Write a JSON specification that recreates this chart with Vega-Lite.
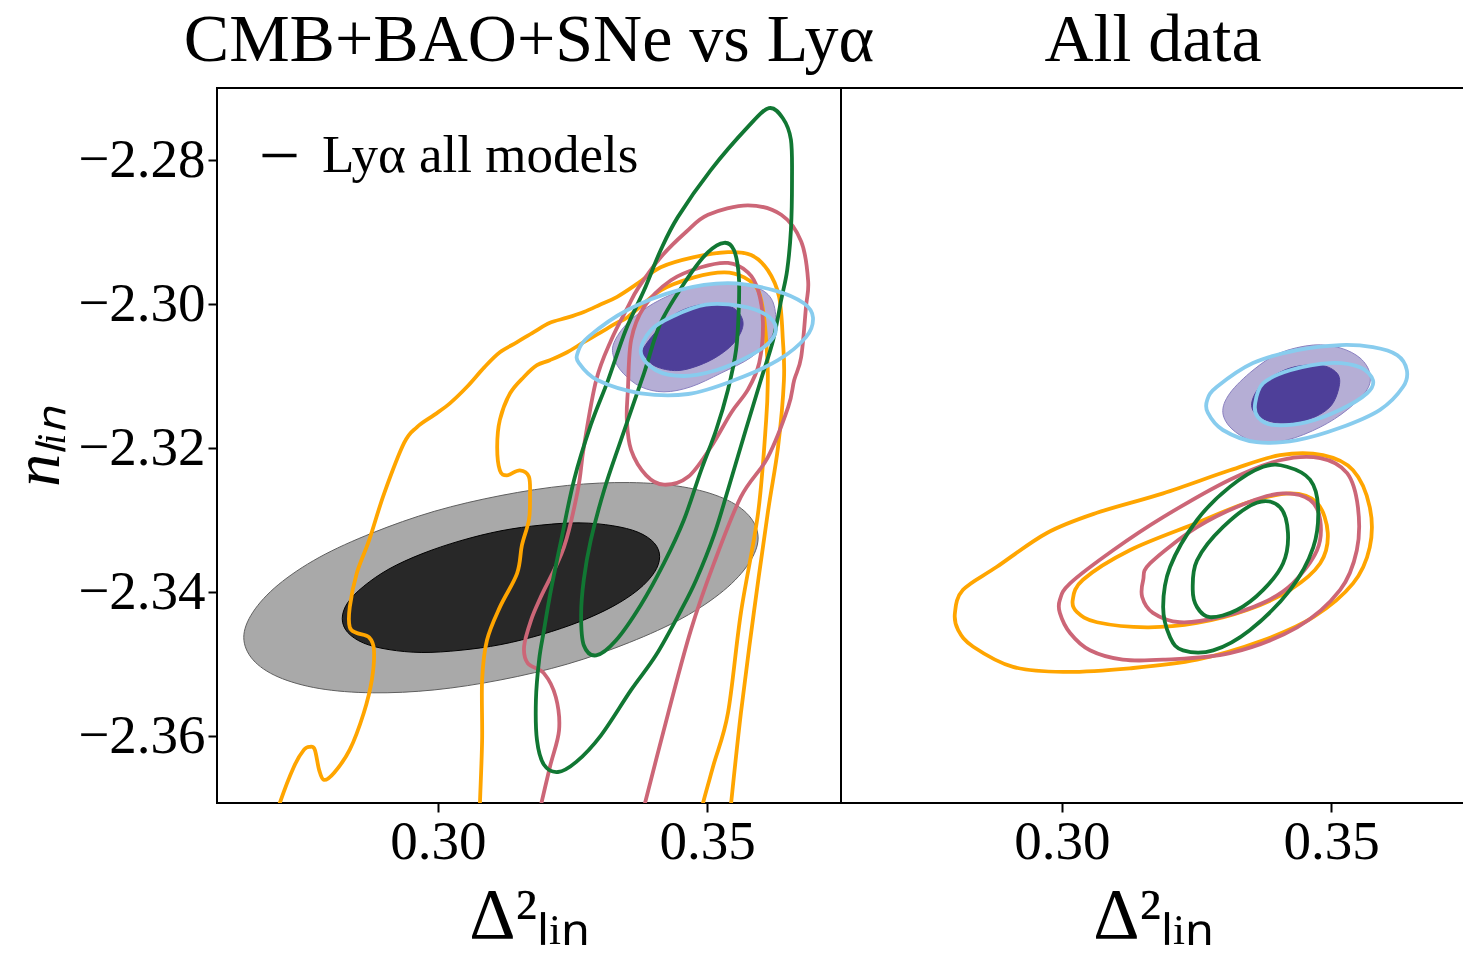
{
  "$schema": "https://vega.github.io/schema/vega-lite/v6.json",
  "padding": {"left": 4, "top": 6, "right": 0, "bottom": 0},
  "background": "white",
  "bounds": "flush",
  "datasets": {
    "left": [
      {"c":"lya2","i":0,"x":0.3595,"y":-2.3325},{"c":"lya2","i":1,"x":0.3578,"y":-2.3294},{"c":"lya2","i":2,"x":0.3531,"y":-2.3270},{"c":"lya2","i":3,"x":0.3455,"y":-2.3254},{"c":"lya2","i":4,"x":0.3356,"y":-2.3248},{"c":"lya2","i":5,"x":0.3241,"y":-2.3252},{"c":"lya2","i":6,"x":0.3117,"y":-2.3266},{"c":"lya2","i":7,"x":0.2993,"y":-2.3288},{"c":"lya2","i":8,"x":0.2878,"y":-2.3318},{"c":"lya2","i":9,"x":0.2779,"y":-2.3352},{"c":"lya2","i":10,"x":0.2703,"y":-2.3390},{"c":"lya2","i":11,"x":0.2656,"y":-2.3428},{"c":"lya2","i":12,"x":0.2639,"y":-2.3463},{"c":"lya2","i":13,"x":0.2656,"y":-2.3494},{"c":"lya2","i":14,"x":0.2703,"y":-2.3518},{"c":"lya2","i":15,"x":0.2779,"y":-2.3534},{"c":"lya2","i":16,"x":0.2878,"y":-2.3540},{"c":"lya2","i":17,"x":0.2993,"y":-2.3536},{"c":"lya2","i":18,"x":0.3117,"y":-2.3522},{"c":"lya2","i":19,"x":0.3241,"y":-2.3500},{"c":"lya2","i":20,"x":0.3356,"y":-2.3470},{"c":"lya2","i":21,"x":0.3455,"y":-2.3436},{"c":"lya2","i":22,"x":0.3531,"y":-2.3398},{"c":"lya2","i":23,"x":0.3578,"y":-2.3360},
      {"c":"lya1","i":0,"x":0.3412,"y":-2.3351},{"c":"lya1","i":1,"x":0.3402,"y":-2.3332},{"c":"lya1","i":2,"x":0.3372,"y":-2.3317},{"c":"lya1","i":3,"x":0.3325,"y":-2.3308},{"c":"lya1","i":4,"x":0.3264,"y":-2.3304},{"c":"lya1","i":5,"x":0.3193,"y":-2.3307},{"c":"lya1","i":6,"x":0.3117,"y":-2.3315},{"c":"lya1","i":7,"x":0.3041,"y":-2.3329},{"c":"lya1","i":8,"x":0.2970,"y":-2.3347},{"c":"lya1","i":9,"x":0.2909,"y":-2.3368},{"c":"lya1","i":10,"x":0.2862,"y":-2.3392},{"c":"lya1","i":11,"x":0.2832,"y":-2.3415},{"c":"lya1","i":12,"x":0.2822,"y":-2.3437},{"c":"lya1","i":13,"x":0.2832,"y":-2.3456},{"c":"lya1","i":14,"x":0.2862,"y":-2.3471},{"c":"lya1","i":15,"x":0.2909,"y":-2.3480},{"c":"lya1","i":16,"x":0.2970,"y":-2.3484},{"c":"lya1","i":17,"x":0.3041,"y":-2.3481},{"c":"lya1","i":18,"x":0.3117,"y":-2.3473},{"c":"lya1","i":19,"x":0.3193,"y":-2.3459},{"c":"lya1","i":20,"x":0.3264,"y":-2.3441},{"c":"lya1","i":21,"x":0.3325,"y":-2.3420},{"c":"lya1","i":22,"x":0.3372,"y":-2.3397},{"c":"lya1","i":23,"x":0.3402,"y":-2.3373},
      {"c":"cmb2","i":0,"x":0.3327,"y":-2.3054},{"c":"cmb2","i":1,"x":0.3353,"y":-2.3026},{"c":"cmb2","i":2,"x":0.3401,"y":-2.2999},{"c":"cmb2","i":3,"x":0.3465,"y":-2.2978},{"c":"cmb2","i":4,"x":0.3526,"y":-2.2971},{"c":"cmb2","i":5,"x":0.3587,"y":-2.2976},{"c":"cmb2","i":6,"x":0.3619,"y":-2.2992},{"c":"cmb2","i":7,"x":0.3628,"y":-2.3022},{"c":"cmb2","i":8,"x":0.3619,"y":-2.3046},{"c":"cmb2","i":9,"x":0.3582,"y":-2.3074},{"c":"cmb2","i":10,"x":0.3526,"y":-2.3096},{"c":"cmb2","i":11,"x":0.3470,"y":-2.3115},{"c":"cmb2","i":12,"x":0.3420,"y":-2.3122},{"c":"cmb2","i":13,"x":0.3377,"y":-2.3115},{"c":"cmb2","i":14,"x":0.3344,"y":-2.3096},{"c":"cmb2","i":15,"x":0.3327,"y":-2.3075},
      {"c":"cmb1","i":0,"x":0.3383,"y":-2.3060},{"c":"cmb1","i":1,"x":0.3433,"y":-2.3018},{"c":"cmb1","i":2,"x":0.3489,"y":-2.3001},{"c":"cmb1","i":3,"x":0.3545,"y":-2.3004},{"c":"cmb1","i":4,"x":0.3567,"y":-2.3026},{"c":"cmb1","i":5,"x":0.3550,"y":-2.3054},{"c":"cmb1","i":6,"x":0.3507,"y":-2.3078},{"c":"cmb1","i":7,"x":0.3452,"y":-2.3092},{"c":"cmb1","i":8,"x":0.3409,"y":-2.3088},{"c":"cmb1","i":9,"x":0.3387,"y":-2.3075},
      {"c":"blue2","i":0,"x":0.3260,"y":-2.3067},{"c":"blue2","i":1,"x":0.3279,"y":-2.3046},{"c":"blue2","i":2,"x":0.3353,"y":-2.3008},{"c":"blue2","i":3,"x":0.3446,"y":-2.2981},{"c":"blue2","i":4,"x":0.3539,"y":-2.2971},{"c":"blue2","i":5,"x":0.3625,"y":-2.2981},{"c":"blue2","i":6,"x":0.3680,"y":-2.2999},{"c":"blue2","i":7,"x":0.3697,"y":-2.3019},{"c":"blue2","i":8,"x":0.3684,"y":-2.3046},{"c":"blue2","i":9,"x":0.3632,"y":-2.3078},{"c":"blue2","i":10,"x":0.3550,"y":-2.3106},{"c":"blue2","i":11,"x":0.3465,"y":-2.3125},{"c":"blue2","i":12,"x":0.3377,"y":-2.3124},{"c":"blue2","i":13,"x":0.3297,"y":-2.3106},{"c":"blue2","i":14,"x":0.3262,"y":-2.3082},
      {"c":"blue1","i":0,"x":0.3377,"y":-2.3067},{"c":"blue1","i":1,"x":0.3396,"y":-2.3036},{"c":"blue1","i":2,"x":0.3437,"y":-2.3017},{"c":"blue1","i":3,"x":0.3498,"y":-2.3001},{"c":"blue1","i":4,"x":0.3563,"y":-2.3003},{"c":"blue1","i":5,"x":0.3610,"y":-2.3015},{"c":"blue1","i":6,"x":0.3628,"y":-2.3033},{"c":"blue1","i":7,"x":0.3615,"y":-2.3054},{"c":"blue1","i":8,"x":0.3572,"y":-2.3075},{"c":"blue1","i":9,"x":0.3517,"y":-2.3092},{"c":"blue1","i":10,"x":0.3457,"y":-2.3100},{"c":"blue1","i":11,"x":0.3405,"y":-2.3092},
      {"c":"green2","i":0,"x":0.3615,"y":-2.2728},{"c":"green2","i":1,"x":0.3641,"y":-2.2742},{"c":"green2","i":2,"x":0.3656,"y":-2.2772},{"c":"green2","i":3,"x":0.3658,"y":-2.2828},{"c":"green2","i":4,"x":0.3656,"y":-2.2897},{"c":"green2","i":5,"x":0.3649,"y":-2.2953},{"c":"green2","i":6,"x":0.3638,"y":-2.2994},{"c":"green2","i":7,"x":0.3623,"y":-2.3050},{"c":"green2","i":8,"x":0.3600,"y":-2.3106},{"c":"green2","i":9,"x":0.3572,"y":-2.3175},{"c":"green2","i":10,"x":0.3539,"y":-2.3258},{"c":"green2","i":11,"x":0.3513,"y":-2.3321},{"c":"green2","i":12,"x":0.3480,"y":-2.3383},{"c":"green2","i":13,"x":0.3452,"y":-2.3425},{"c":"green2","i":14,"x":0.3405,"y":-2.3488},{"c":"green2","i":15,"x":0.3359,"y":-2.3536},{"c":"green2","i":16,"x":0.3303,"y":-2.3599},{"c":"green2","i":17,"x":0.3257,"y":-2.3636},{"c":"green2","i":18,"x":0.3223,"y":-2.3650},{"c":"green2","i":19,"x":0.3197,"y":-2.3640},{"c":"green2","i":20,"x":0.3184,"y":-2.3606},{"c":"green2","i":21,"x":0.3182,"y":-2.3550},{"c":"green2","i":22,"x":0.3188,"y":-2.3494},{"c":"green2","i":23,"x":0.3197,"y":-2.3453},{"c":"green2","i":24,"x":0.3210,"y":-2.3397},{"c":"green2","i":25,"x":0.3229,"y":-2.3328},{"c":"green2","i":26,"x":0.3253,"y":-2.3244},{"c":"green2","i":27,"x":0.3284,"y":-2.3168},{"c":"green2","i":28,"x":0.3316,"y":-2.3106},{"c":"green2","i":29,"x":0.3349,"y":-2.3036},{"c":"green2","i":30,"x":0.3383,"y":-2.2981},{"c":"green2","i":31,"x":0.3414,"y":-2.2925},{"c":"green2","i":32,"x":0.3446,"y":-2.2879},{"c":"green2","i":33,"x":0.3507,"y":-2.2814},{"c":"green2","i":34,"x":0.3576,"y":-2.2754},
      {"c":"green1","i":0,"x":0.3532,"y":-2.2915},{"c":"green1","i":1,"x":0.3550,"y":-2.2925},{"c":"green1","i":2,"x":0.3559,"y":-2.2960},{"c":"green1","i":3,"x":0.3559,"y":-2.3008},{"c":"green1","i":4,"x":0.3554,"y":-2.3064},{"c":"green1","i":5,"x":0.3539,"y":-2.3119},{"c":"green1","i":6,"x":0.3517,"y":-2.3175},{"c":"green1","i":7,"x":0.3489,"y":-2.3231},{"c":"green1","i":8,"x":0.3457,"y":-2.3300},{"c":"green1","i":9,"x":0.3420,"y":-2.3360},{"c":"green1","i":10,"x":0.3377,"y":-2.3418},{"c":"green1","i":11,"x":0.3331,"y":-2.3467},{"c":"green1","i":12,"x":0.3294,"y":-2.3488},{"c":"green1","i":13,"x":0.3271,"y":-2.3474},{"c":"green1","i":14,"x":0.3266,"y":-2.3432},{"c":"green1","i":15,"x":0.3271,"y":-2.3383},{"c":"green1","i":16,"x":0.3284,"y":-2.3328},{"c":"green1","i":17,"x":0.3309,"y":-2.3258},{"c":"green1","i":18,"x":0.3340,"y":-2.3189},{"c":"green1","i":19,"x":0.3383,"y":-2.3096},{"c":"green1","i":20,"x":0.3414,"y":-2.3026},{"c":"green1","i":21,"x":0.3465,"y":-2.2963},{"c":"green1","i":22,"x":0.3502,"y":-2.2928},
      {"c":"pink2","i":0,"x":0.3187,"y":-2.3710},{"c":"pink2","i":1,"x":0.3208,"y":-2.3643},{"c":"pink2","i":2,"x":0.3225,"y":-2.3592},{"c":"pink2","i":3,"x":0.3219,"y":-2.3546},{"c":"pink2","i":4,"x":0.3197,"y":-2.3513},{"c":"pink2","i":5,"x":0.3167,"y":-2.3499},{"c":"pink2","i":6,"x":0.3160,"y":-2.3476},{"c":"pink2","i":7,"x":0.3173,"y":-2.3439},{"c":"pink2","i":8,"x":0.3191,"y":-2.3407},{"c":"pink2","i":9,"x":0.3234,"y":-2.3338},{"c":"pink2","i":10,"x":0.3260,"y":-2.3258},{"c":"pink2","i":11,"x":0.3271,"y":-2.3199},{"c":"pink2","i":12,"x":0.3294,"y":-2.3106},{"c":"pink2","i":13,"x":0.3322,"y":-2.3050},{"c":"pink2","i":14,"x":0.3353,"y":-2.3004},{"c":"pink2","i":15,"x":0.3372,"y":-2.2978},{"c":"pink2","i":16,"x":0.3414,"y":-2.2935},{"c":"pink2","i":17,"x":0.3461,"y":-2.2900},{"c":"pink2","i":18,"x":0.3502,"y":-2.2876},{"c":"pink2","i":19,"x":0.3576,"y":-2.2863},{"c":"pink2","i":20,"x":0.3638,"y":-2.2876},{"c":"pink2","i":21,"x":0.3675,"y":-2.2913},{"c":"pink2","i":22,"x":0.3688,"y":-2.2968},{"c":"pink2","i":23,"x":0.3684,"y":-2.3004},{"c":"pink2","i":24,"x":0.3675,"y":-2.3074},{"c":"pink2","i":25,"x":0.3662,"y":-2.3106},{"c":"pink2","i":26,"x":0.3651,"y":-2.3143},{"c":"pink2","i":27,"x":0.3613,"y":-2.3213},{"c":"pink2","i":28,"x":0.3563,"y":-2.3268},{"c":"pink2","i":29,"x":0.3513,"y":-2.3360},{"c":"pink2","i":30,"x":0.3470,"y":-2.3453},{"c":"pink2","i":31,"x":0.3428,"y":-2.3568},{"c":"pink2","i":32,"x":0.3379,"y":-2.3710},
      {"c":"pink1","i":0,"x":0.3539,"y":-2.2943},{"c":"pink1","i":1,"x":0.3576,"y":-2.2956},{"c":"pink1","i":2,"x":0.3595,"y":-2.2981},{"c":"pink1","i":3,"x":0.3604,"y":-2.3026},{"c":"pink1","i":4,"x":0.3597,"y":-2.3082},{"c":"pink1","i":5,"x":0.3576,"y":-2.3119},{"c":"pink1","i":6,"x":0.3545,"y":-2.3151},{"c":"pink1","i":7,"x":0.3507,"y":-2.3199},{"c":"pink1","i":8,"x":0.3465,"y":-2.3240},{"c":"pink1","i":9,"x":0.3420,"y":-2.3251},{"c":"pink1","i":10,"x":0.3387,"y":-2.3238},{"c":"pink1","i":11,"x":0.3359,"y":-2.3203},{"c":"pink1","i":12,"x":0.3351,"y":-2.3161},{"c":"pink1","i":13,"x":0.3353,"y":-2.3119},{"c":"pink1","i":14,"x":0.3359,"y":-2.3050},{"c":"pink1","i":15,"x":0.3383,"y":-2.3004},{"c":"pink1","i":16,"x":0.3433,"y":-2.2967},{"c":"pink1","i":17,"x":0.3489,"y":-2.2949},
      {"c":"orange2","i":0,"x":0.2703,"y":-2.3706},{"c":"orange2","i":1,"x":0.2706,"y":-2.3693},{"c":"orange2","i":2,"x":0.2732,"y":-2.3643},{"c":"orange2","i":3,"x":0.2751,"y":-2.3619},{"c":"orange2","i":4,"x":0.2762,"y":-2.3615},{"c":"orange2","i":5,"x":0.2771,"y":-2.3619},{"c":"orange2","i":6,"x":0.2779,"y":-2.3647},{"c":"orange2","i":7,"x":0.2788,"y":-2.3661},{"c":"orange2","i":8,"x":0.2807,"y":-2.3651},{"c":"orange2","i":9,"x":0.2836,"y":-2.3619},{"c":"orange2","i":10,"x":0.2862,"y":-2.3568},{"c":"orange2","i":11,"x":0.2877,"y":-2.3522},{"c":"orange2","i":12,"x":0.2881,"y":-2.3481},{"c":"orange2","i":13,"x":0.2872,"y":-2.3463},{"c":"orange2","i":14,"x":0.2849,"y":-2.3457},{"c":"orange2","i":15,"x":0.2836,"y":-2.3449},{"c":"orange2","i":16,"x":0.2836,"y":-2.3421},{"c":"orange2","i":17,"x":0.2849,"y":-2.3374},{"c":"orange2","i":18,"x":0.2872,"y":-2.3328},{"c":"orange2","i":19,"x":0.2900,"y":-2.3263},{"c":"orange2","i":20,"x":0.2937,"y":-2.3193},{"c":"orange2","i":21,"x":0.2961,"y":-2.3171},{"c":"orange2","i":22,"x":0.2993,"y":-2.3154},{"c":"orange2","i":23,"x":0.3022,"y":-2.3138},{"c":"orange2","i":24,"x":0.3054,"y":-2.3115},{"c":"orange2","i":25,"x":0.3086,"y":-2.3088},{"c":"orange2","i":26,"x":0.3115,"y":-2.3067},{"c":"orange2","i":27,"x":0.3147,"y":-2.3053},{"c":"orange2","i":28,"x":0.3178,"y":-2.3039},{"c":"orange2","i":29,"x":0.3208,"y":-2.3026},{"c":"orange2","i":30,"x":0.3240,"y":-2.3019},{"c":"orange2","i":31,"x":0.3271,"y":-2.3011},{"c":"orange2","i":32,"x":0.3301,"y":-2.3001},{"c":"orange2","i":33,"x":0.3333,"y":-2.2990},{"c":"orange2","i":34,"x":0.3372,"y":-2.2971},{"c":"orange2","i":35,"x":0.3414,"y":-2.2949},{"c":"orange2","i":36,"x":0.3476,"y":-2.2935},{"c":"orange2","i":37,"x":0.3539,"y":-2.2928},{"c":"orange2","i":38,"x":0.3582,"y":-2.2932},{"c":"orange2","i":39,"x":0.3613,"y":-2.2953},{"c":"orange2","i":40,"x":0.3634,"y":-2.2990},{"c":"orange2","i":41,"x":0.3641,"y":-2.3050},{"c":"orange2","i":42,"x":0.3643,"y":-2.3106},{"c":"orange2","i":43,"x":0.3632,"y":-2.3199},{"c":"orange2","i":44,"x":0.3613,"y":-2.3290},{"c":"orange2","i":45,"x":0.3587,"y":-2.3429},{"c":"orange2","i":46,"x":0.3563,"y":-2.3568},{"c":"orange2","i":47,"x":0.3545,"y":-2.3692},{"c":"orange2","i":48,"x":0.3543,"y":-2.3710},
      {"c":"orange1","i":0,"x":0.3078,"y":-2.3710},{"c":"orange1","i":1,"x":0.3078,"y":-2.3693},{"c":"orange1","i":2,"x":0.3082,"y":-2.3606},{"c":"orange1","i":3,"x":0.3082,"y":-2.3522},{"c":"orange1","i":4,"x":0.3091,"y":-2.3467},{"c":"orange1","i":5,"x":0.3115,"y":-2.3421},{"c":"orange1","i":6,"x":0.3147,"y":-2.3374},{"c":"orange1","i":7,"x":0.3156,"y":-2.3335},{"c":"orange1","i":8,"x":0.3169,"y":-2.3300},{"c":"orange1","i":9,"x":0.3171,"y":-2.3268},{"c":"orange1","i":10,"x":0.3169,"y":-2.3240},{"c":"orange1","i":11,"x":0.3152,"y":-2.3231},{"c":"orange1","i":12,"x":0.3128,"y":-2.3238},{"c":"orange1","i":13,"x":0.3115,"y":-2.3231},{"c":"orange1","i":14,"x":0.3110,"y":-2.3199},{"c":"orange1","i":15,"x":0.3115,"y":-2.3161},{"c":"orange1","i":16,"x":0.3134,"y":-2.3124},{"c":"orange1","i":17,"x":0.3160,"y":-2.3101},{"c":"orange1","i":18,"x":0.3184,"y":-2.3085},{"c":"orange1","i":19,"x":0.3208,"y":-2.3078},{"c":"orange1","i":20,"x":0.3240,"y":-2.3067},{"c":"orange1","i":21,"x":0.3271,"y":-2.3053},{"c":"orange1","i":22,"x":0.3301,"y":-2.3040},{"c":"orange1","i":23,"x":0.3333,"y":-2.3026},{"c":"orange1","i":24,"x":0.3353,"y":-2.3018},{"c":"orange1","i":25,"x":0.3414,"y":-2.2981},{"c":"orange1","i":26,"x":0.3476,"y":-2.2963},{"c":"orange1","i":27,"x":0.3532,"y":-2.2956},{"c":"orange1","i":28,"x":0.3569,"y":-2.2963},{"c":"orange1","i":29,"x":0.3595,"y":-2.2981},{"c":"orange1","i":30,"x":0.3606,"y":-2.3018},{"c":"orange1","i":31,"x":0.3612,"y":-2.3074},{"c":"orange1","i":32,"x":0.3613,"y":-2.3106},{"c":"orange1","i":33,"x":0.3610,"y":-2.3161},{"c":"orange1","i":34,"x":0.3595,"y":-2.3290},{"c":"orange1","i":35,"x":0.3563,"y":-2.3429},{"c":"orange1","i":36,"x":0.3539,"y":-2.3568},{"c":"orange1","i":37,"x":0.3513,"y":-2.3638},{"c":"orange1","i":38,"x":0.3493,"y":-2.3692},{"c":"orange1","i":39,"x":0.3489,"y":-2.3710}
    ],
    "right": [
      {"c":"cmb2","i":0,"x":0.3299,"y":-2.3151},{"c":"cmb2","i":1,"x":0.3312,"y":-2.3124},{"c":"cmb2","i":2,"x":0.3355,"y":-2.3092},{"c":"cmb2","i":3,"x":0.3405,"y":-2.3068},{"c":"cmb2","i":4,"x":0.3467,"y":-2.3057},{"c":"cmb2","i":5,"x":0.3517,"y":-2.3061},{"c":"cmb2","i":6,"x":0.3554,"y":-2.3075},{"c":"cmb2","i":7,"x":0.3572,"y":-2.3096},{"c":"cmb2","i":8,"x":0.3567,"y":-2.3119},{"c":"cmb2","i":9,"x":0.3530,"y":-2.3147},{"c":"cmb2","i":10,"x":0.3480,"y":-2.3171},{"c":"cmb2","i":11,"x":0.3418,"y":-2.3189},{"c":"cmb2","i":12,"x":0.3362,"y":-2.3192},{"c":"cmb2","i":13,"x":0.3318,"y":-2.3175},
      {"c":"cmb1","i":0,"x":0.3353,"y":-2.3136},{"c":"cmb1","i":1,"x":0.3374,"y":-2.3110},{"c":"cmb1","i":2,"x":0.3424,"y":-2.3089},{"c":"cmb1","i":3,"x":0.3480,"y":-2.3085},{"c":"cmb1","i":4,"x":0.3511,"y":-2.3096},{"c":"cmb1","i":5,"x":0.3515,"y":-2.3115},{"c":"cmb1","i":6,"x":0.3498,"y":-2.3143},{"c":"cmb1","i":7,"x":0.3455,"y":-2.3161},{"c":"cmb1","i":8,"x":0.3400,"y":-2.3165},{"c":"cmb1","i":9,"x":0.3362,"y":-2.3154},
      {"c":"blue2","i":0,"x":0.3270,"y":-2.3133},{"c":"blue2","i":1,"x":0.3288,"y":-2.3115},{"c":"blue2","i":2,"x":0.3355,"y":-2.3082},{"c":"blue2","i":3,"x":0.3437,"y":-2.3064},{"c":"blue2","i":4,"x":0.3517,"y":-2.3057},{"c":"blue2","i":5,"x":0.3578,"y":-2.3060},{"c":"blue2","i":6,"x":0.3623,"y":-2.3071},{"c":"blue2","i":7,"x":0.3641,"y":-2.3092},{"c":"blue2","i":8,"x":0.3634,"y":-2.3115},{"c":"blue2","i":9,"x":0.3591,"y":-2.3147},{"c":"blue2","i":10,"x":0.3517,"y":-2.3172},{"c":"blue2","i":11,"x":0.3437,"y":-2.3189},{"c":"blue2","i":12,"x":0.3362,"y":-2.3192},{"c":"blue2","i":13,"x":0.3299,"y":-2.3175},{"c":"blue2","i":14,"x":0.3271,"y":-2.3151},
      {"c":"blue1","i":0,"x":0.3359,"y":-2.3138},{"c":"blue1","i":1,"x":0.3374,"y":-2.3110},{"c":"blue1","i":2,"x":0.3424,"y":-2.3092},{"c":"blue1","i":3,"x":0.3498,"y":-2.3082},{"c":"blue1","i":4,"x":0.3554,"y":-2.3088},{"c":"blue1","i":5,"x":0.3578,"y":-2.3106},{"c":"blue1","i":6,"x":0.3567,"y":-2.3124},{"c":"blue1","i":7,"x":0.3517,"y":-2.3147},{"c":"blue1","i":8,"x":0.3455,"y":-2.3164},{"c":"blue1","i":9,"x":0.3392,"y":-2.3168},{"c":"blue1","i":10,"x":0.3364,"y":-2.3157},
      {"c":"orange2","i":0,"x":0.2801,"y":-2.3429},{"c":"orange2","i":1,"x":0.2816,"y":-2.3397},{"c":"orange2","i":2,"x":0.2879,"y":-2.3365},{"c":"orange2","i":3,"x":0.2972,"y":-2.3318},{"c":"orange2","i":4,"x":0.3065,"y":-2.3290},{"c":"orange2","i":5,"x":0.3188,"y":-2.3263},{"c":"orange2","i":6,"x":0.3312,"y":-2.3231},{"c":"orange2","i":7,"x":0.3405,"y":-2.3210},{"c":"orange2","i":8,"x":0.3485,"y":-2.3210},{"c":"orange2","i":9,"x":0.3541,"y":-2.3231},{"c":"orange2","i":10,"x":0.3572,"y":-2.3282},{"c":"orange2","i":11,"x":0.3572,"y":-2.3338},{"c":"orange2","i":12,"x":0.3541,"y":-2.3388},{"c":"orange2","i":13,"x":0.3467,"y":-2.3435},{"c":"orange2","i":14,"x":0.3374,"y":-2.3467},{"c":"orange2","i":15,"x":0.3251,"y":-2.3494},{"c":"orange2","i":16,"x":0.3126,"y":-2.3506},{"c":"orange2","i":17,"x":0.3002,"y":-2.3511},{"c":"orange2","i":18,"x":0.2909,"y":-2.3504},{"c":"orange2","i":19,"x":0.2835,"y":-2.3476},{"c":"orange2","i":20,"x":0.2807,"y":-2.3453},
      {"c":"orange1","i":0,"x":0.3020,"y":-2.3411},{"c":"orange1","i":1,"x":0.3039,"y":-2.3383},{"c":"orange1","i":2,"x":0.3126,"y":-2.3342},{"c":"orange1","i":3,"x":0.3251,"y":-2.3304},{"c":"orange1","i":4,"x":0.3344,"y":-2.3276},{"c":"orange1","i":5,"x":0.3424,"y":-2.3263},{"c":"orange1","i":6,"x":0.3474,"y":-2.3276},{"c":"orange1","i":7,"x":0.3494,"y":-2.3318},{"c":"orange1","i":8,"x":0.3480,"y":-2.3360},{"c":"orange1","i":9,"x":0.3424,"y":-2.3397},{"c":"orange1","i":10,"x":0.3344,"y":-2.3425},{"c":"orange1","i":11,"x":0.3251,"y":-2.3443},{"c":"orange1","i":12,"x":0.3158,"y":-2.3449},{"c":"orange1","i":13,"x":0.3065,"y":-2.3442},{"c":"orange1","i":14,"x":0.3028,"y":-2.3428},
      {"c":"pink2","i":0,"x":0.2996,"y":-2.3411},{"c":"pink2","i":1,"x":0.3015,"y":-2.3388},{"c":"pink2","i":2,"x":0.3095,"y":-2.3342},{"c":"pink2","i":3,"x":0.3188,"y":-2.3296},{"c":"pink2","i":4,"x":0.3312,"y":-2.3244},{"c":"pink2","i":5,"x":0.3405,"y":-2.3217},{"c":"pink2","i":6,"x":0.3480,"y":-2.3214},{"c":"pink2","i":7,"x":0.3530,"y":-2.3235},{"c":"pink2","i":8,"x":0.3550,"y":-2.3282},{"c":"pink2","i":9,"x":0.3548,"y":-2.3342},{"c":"pink2","i":10,"x":0.3517,"y":-2.3397},{"c":"pink2","i":11,"x":0.3437,"y":-2.3449},{"c":"pink2","i":12,"x":0.3312,"y":-2.3485},{"c":"pink2","i":13,"x":0.3188,"y":-2.3494},{"c":"pink2","i":14,"x":0.3113,"y":-2.3494},{"c":"pink2","i":15,"x":0.3052,"y":-2.3481},{"c":"pink2","i":16,"x":0.3015,"y":-2.3457},{"c":"pink2","i":17,"x":0.2996,"y":-2.3429},
      {"c":"pink1","i":0,"x":0.3151,"y":-2.3383},{"c":"pink1","i":1,"x":0.3164,"y":-2.3360},{"c":"pink1","i":2,"x":0.3251,"y":-2.3310},{"c":"pink1","i":3,"x":0.3344,"y":-2.3276},{"c":"pink1","i":4,"x":0.3411,"y":-2.3263},{"c":"pink1","i":5,"x":0.3461,"y":-2.3272},{"c":"pink1","i":6,"x":0.3480,"y":-2.3300},{"c":"pink1","i":7,"x":0.3474,"y":-2.3342},{"c":"pink1","i":8,"x":0.3429,"y":-2.3388},{"c":"pink1","i":9,"x":0.3374,"y":-2.3415},{"c":"pink1","i":10,"x":0.3294,"y":-2.3435},{"c":"pink1","i":11,"x":0.3219,"y":-2.3442},{"c":"pink1","i":12,"x":0.3169,"y":-2.3429},{"c":"pink1","i":13,"x":0.3149,"y":-2.3407},
      {"c":"green2","i":0,"x":0.3188,"y":-2.3421},{"c":"green2","i":1,"x":0.3201,"y":-2.3365},{"c":"green2","i":2,"x":0.3251,"y":-2.3300},{"c":"green2","i":3,"x":0.3312,"y":-2.3254},{"c":"green2","i":4,"x":0.3374,"y":-2.3226},{"c":"green2","i":5,"x":0.3418,"y":-2.3226},{"c":"green2","i":6,"x":0.3461,"y":-2.3244},{"c":"green2","i":7,"x":0.3476,"y":-2.3282},{"c":"green2","i":8,"x":0.3467,"y":-2.3338},{"c":"green2","i":9,"x":0.3424,"y":-2.3397},{"c":"green2","i":10,"x":0.3349,"y":-2.3453},{"c":"green2","i":11,"x":0.3281,"y":-2.3481},{"c":"green2","i":12,"x":0.3225,"y":-2.3481},{"c":"green2","i":13,"x":0.3201,"y":-2.3463},
      {"c":"green1","i":0,"x":0.3243,"y":-2.3397},{"c":"green1","i":1,"x":0.3251,"y":-2.3356},{"c":"green1","i":2,"x":0.3299,"y":-2.3310},{"c":"green1","i":3,"x":0.3362,"y":-2.3276},{"c":"green1","i":4,"x":0.3405,"y":-2.3282},{"c":"green1","i":5,"x":0.3420,"y":-2.3318},{"c":"green1","i":6,"x":0.3411,"y":-2.3360},{"c":"green1","i":7,"x":0.3374,"y":-2.3397},{"c":"green1","i":8,"x":0.3325,"y":-2.3425},{"c":"green1","i":9,"x":0.3275,"y":-2.3435},{"c":"green1","i":10,"x":0.3251,"y":-2.3421}
    ]
  },
  "hconcat": [
    {
      "width": 624,
      "height": 715,
      "title": {"text": "CMB+BAO+SNe vs Lyα"},
      "data": {"name": "left"},
      "encoding": {
        "x": {"field": "x", "type": "quantitative", "scale": {"domain": [0.258922, 0.374907], "nice": false, "zero": false},
              "axis": {"values": [0.30, 0.35], "format": ".2f", "title": "Δ²ₗᵢₙ"}},
        "y": {"field": "y", "type": "quantitative", "scale": {"domain": [-2.369306, -2.27], "nice": false, "zero": false},
              "axis": {"values": [-2.36, -2.34, -2.32, -2.30, -2.28], "format": ".2f", "title": "nₗᵢₙ", "titleFontStyle": "italic", "titleFontSize": 66, "titlePadding": 5}},
        "order": {"field": "i", "type": "quantitative"},
        "detail": {"field": "c", "type": "nominal"}
      },
      "layer": [
        {"transform": [{"filter": "datum.c === 'lya2'"}],
         "mark": {"type": "line", "filled": true, "fill": "#a9a9a9", "stroke": "#5f5f5f", "strokeWidth": 1, "interpolate": "cardinal-closed", "clip": true}},
        {"transform": [{"filter": "datum.c === 'lya1'"}],
         "mark": {"type": "line", "filled": true, "fill": "#282828", "strokeWidth": 1, "interpolate": "cardinal-closed", "clip": true},
         "encoding": {"stroke": {"datum": "Lyα all models", "type": "nominal", "scale": {"range": ["#000000"]},
           "legend": {"title": null, "orient": "none", "legendX": 36, "legendY": 41, "padding": 0, "symbolType": "stroke", "symbolSize": 1160, "symbolStrokeWidth": 3.5, "symbolStrokeColor": "#000000", "labelFont": "Liberation Serif", "labelFontSize": 53, "labelColor": "#000000", "labelOffset": 16, "labelLimit": 0}}}},
        {"transform": [{"filter": "datum.c === 'cmb2'"}],
         "mark": {"type": "line", "filled": true, "fill": "#b5aed5", "stroke": "#8a80c0", "strokeWidth": 1, "interpolate": "cardinal-closed", "clip": true}},
        {"transform": [{"filter": "datum.c === 'cmb1'"}],
         "mark": {"type": "line", "filled": true, "fill": "#4e3f99", "stroke": "#4e3f99", "strokeWidth": 1, "interpolate": "cardinal-closed", "clip": true}},
        {"transform": [{"filter": "datum.c === 'orange2' || datum.c === 'orange1'"}],
         "mark": {"type": "line", "stroke": "#ffa500", "strokeWidth": 3.8, "interpolate": "cardinal", "clip": true}},
        {"transform": [{"filter": "datum.c === 'pink2'"}],
         "mark": {"type": "line", "stroke": "#cc6677", "strokeWidth": 3.8, "interpolate": "cardinal", "clip": true}},
        {"transform": [{"filter": "datum.c === 'pink1'"}],
         "mark": {"type": "line", "stroke": "#cc6677", "strokeWidth": 3.8, "interpolate": "cardinal-closed", "clip": true}},
        {"transform": [{"filter": "datum.c === 'green2' || datum.c === 'green1'"}],
         "mark": {"type": "line", "stroke": "#117733", "strokeWidth": 3.8, "interpolate": "cardinal-closed", "clip": true}},
        {"transform": [{"filter": "datum.c === 'blue2' || datum.c === 'blue1'"}],
         "mark": {"type": "line", "stroke": "#88ccee", "strokeWidth": 3.8, "interpolate": "cardinal-closed", "clip": true}}
      ]
    },
    {
      "width": 624,
      "height": 715,
      "title": {"text": "All data"},
      "data": {"name": "right"},
      "encoding": {
        "x": {"field": "x", "type": "quantitative", "scale": {"domain": [0.258922, 0.374907], "nice": false, "zero": false},
              "axis": {"values": [0.30, 0.35], "format": ".2f", "title": "Δ²ₗᵢₙ"}},
        "y": {"field": "y", "type": "quantitative", "scale": {"domain": [-2.369306, -2.27], "nice": false, "zero": false}, "axis": null},
        "order": {"field": "i", "type": "quantitative"},
        "detail": {"field": "c", "type": "nominal"}
      },
      "layer": [
        {"transform": [{"filter": "datum.c === 'cmb2'"}],
         "mark": {"type": "line", "filled": true, "fill": "#b5aed5", "stroke": "#8a80c0", "strokeWidth": 1, "interpolate": "cardinal-closed", "clip": true}},
        {"transform": [{"filter": "datum.c === 'cmb1'"}],
         "mark": {"type": "line", "filled": true, "fill": "#4e3f99", "stroke": "#4e3f99", "strokeWidth": 1, "interpolate": "cardinal-closed", "clip": true}},
        {"transform": [{"filter": "datum.c === 'orange2' || datum.c === 'orange1'"}],
         "mark": {"type": "line", "stroke": "#ffa500", "strokeWidth": 3.8, "interpolate": "cardinal-closed", "clip": true}},
        {"transform": [{"filter": "datum.c === 'pink2' || datum.c === 'pink1'"}],
         "mark": {"type": "line", "stroke": "#cc6677", "strokeWidth": 3.8, "interpolate": "cardinal-closed", "clip": true}},
        {"transform": [{"filter": "datum.c === 'green2' || datum.c === 'green1'"}],
         "mark": {"type": "line", "stroke": "#117733", "strokeWidth": 3.8, "interpolate": "cardinal-closed", "clip": true}},
        {"transform": [{"filter": "datum.c === 'blue2' || datum.c === 'blue1'"}],
         "mark": {"type": "line", "stroke": "#88ccee", "strokeWidth": 3.8, "interpolate": "cardinal-closed", "clip": true}}
      ]
    }
  ],
  "spacing": 0,
  "resolve": {"legend": {"stroke": "independent"}, "scale": {"x": "independent", "y": "independent"}},
  "config": {
    "font": "Liberation Serif",
    "view": {"stroke": "#000000", "strokeWidth": 2},
    "axis": {"domain": false, "grid": false, "labelFont": "Liberation Serif", "labelFontSize": 55, "labelColor": "#000000",
             "tickColor": "#000000", "tickWidth": 2, "tickSize": 9, "labelPadding": 3,
             "titleFont": "Liberation Serif", "titleFontSize": 72, "titleFontWeight": "normal", "titleColor": "#000000", "titlePadding": 11},
    "title": {"font": "Liberation Serif", "fontSize": 68, "fontWeight": "normal", "color": "#000000", "offset": 13}
  }
}
